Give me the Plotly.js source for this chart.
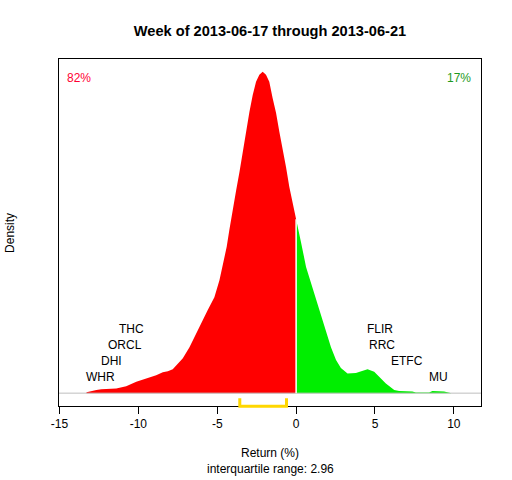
<!DOCTYPE html>
<html>
<head>
<meta charset="utf-8">
<script src="https://cdn.plot.ly/plotly-3.0.1.min.js"></script>
<style>html,body{margin:0;padding:0;background:#fff;}#chart{width:512px;height:480px;}</style>
</head>
<body>
<div id="chart"></div>
<script>
// Density of weekly returns, left (negative) part
const negX = [-13.30,-13.28,-12.66,-12.35,-11.40,-10.77,-10.13,-9.61,-9.29,-8.87,-8.45,-8.13,-7.82,-7.50,-7.18,-6.76,-6.34,-5.92,-5.60,-5.18,-4.86,-4.61,-4.40,-4.23,-4.02,-3.80,-3.59,-3.39,-3.17,-2.96,-2.75,-2.54,-2.33,-2.12,-1.91,-1.70,-1.49,-1.27,-1.06,-0.85,-0.64,-0.43,-0.22,0];
const negY = [0,0.0005,0.0016,0.0021,0.0025,0.0037,0.0060,0.0074,0.0083,0.0095,0.0110,0.0116,0.0127,0.0154,0.0185,0.0243,0.0318,0.0386,0.0440,0.0508,0.0598,0.0689,0.0774,0.0864,0.0979,0.1074,0.1170,0.1277,0.1392,0.1488,0.1578,0.1647,0.1685,0.1700,0.1685,0.1647,0.1562,0.1482,0.1382,0.1297,0.1197,0.1091,0.1006,0.0920];
// positive part
const posX = [0,0.09,0.31,0.63,0.94,1.26,1.58,1.89,2.21,2.53,2.84,3.26,3.79,4.13,4.53,4.95,5.27,5.69,6.22,6.53,7.37,7.59,8.43,8.64,9.38,9.80,9.85];
const posY = [0.0920,0.0879,0.0799,0.0668,0.0583,0.0493,0.0403,0.0318,0.0243,0.0175,0.0133,0.0104,0.0107,0.0116,0.0127,0.0113,0.0086,0.0051,0.0016,0.0011,0.0009,0.0004,0.0004,0.0011,0.0009,0.0004,0];

const stockNames = ["WHR","DHI","ORCL","THC","MU","ETFC","RRC","FLIR"];
const stockReturns = [-12.4,-11.71,-10.82,-10.44,9.0,7.03,5.44,5.32];
const labelLevels = [0.0085,0.0170,0.0255,0.0340,0.0085,0.0170,0.0255,0.0340];

const pctLabels = ["82%","17%"];
const pctX = [-13.78,10.33];
const pctColors = ["#FF0033","#1E9A1E"];

const iqrLow = -3.57, iqrHigh = -0.61;
const iqrText = "interquartile range: 2.96";
const titleText = "Week of 2013-06-17 through 2013-06-21";

const peak = Math.max(...negY, ...posY);
const FONT = "Liberation Sans, Arial, Helvetica, sans-serif";

const traces = [
  {x: negX, y: negY, type: "scatter", mode: "lines", fill: "tozeroy",
   fillcolor: "#FF0000", line: {color: "#FF0000", width: 0}, hoverinfo: "skip"},
  {x: posX, y: posY, type: "scatter", mode: "lines", fill: "tozeroy",
   fillcolor: "#00EE00", line: {color: "#00EE00", width: 0}, hoverinfo: "skip"}
];

const annotations = [];
stockNames.forEach((n, i) => annotations.push({
  x: stockReturns[i], y: labelLevels[i], xref: "x", yref: "y", text: n,
  showarrow: false, xanchor: "center", yanchor: "middle",
  font: {family: FONT, size: 12, color: "#000"}
}));
pctLabels.forEach((t, i) => annotations.push({
  x: pctX[i], y: peak * 0.981, xref: "x", yref: "y", text: t,
  showarrow: false, xanchor: "center", yanchor: "middle",
  font: {family: FONT, size: 12, color: pctColors[i]}
}));
annotations.push({x: 0.5, y: -0.1354, xref: "paper", yref: "paper", text: "Return (%)",
  showarrow: false, xanchor: "center", yanchor: "middle", font: {family: FONT, size: 12, color: "#000"}});
annotations.push({x: 0.5, y: -0.1816, xref: "paper", yref: "paper", text: iqrText,
  showarrow: false, xanchor: "center", yanchor: "middle", font: {family: FONT, size: 12, color: "#000"}});
annotations.push({x: -0.1174, y: 0.5, xref: "paper", yref: "paper", text: "Density", textangle: -90,
  showarrow: false, xanchor: "center", yanchor: "middle", font: {family: FONT, size: 12, color: "#000"}});

const shapes = [
  {type: "line", xref: "paper", yref: "y", x0: 0, x1: 1, y0: 0, y1: 0,
   line: {color: "#BEBEBE", width: 1}, layer: "above"},
  {type: "line", xref: "x", yref: "y", x0: 0, x1: 0, y0: 0, y1: negY[negY.length - 1],
   line: {color: "#FFFFFF", width: 1.5}, layer: "above"},
  {type: "path", xref: "x", yref: "paper",
   path: `M ${iqrLow},0.022 L ${iqrLow},-0.001 L ${iqrHigh},-0.001 L ${iqrHigh},0.022`,
   line: {color: "#FFD700", width: 3}, layer: "above"}
];

const layout = {
  width: 512, height: 480,
  margin: {l: 59, r: 31, t: 59, b: 74, pad: 0},
  paper_bgcolor: "#fff", plot_bgcolor: "#fff",
  showlegend: false,
  title: {text: "<b>" + titleText + "</b>", x: 0.5, xref: "paper", y: 1 - 31 / 480, yref: "container",
          xanchor: "center", yanchor: "middle", font: {family: FONT, size: 14.6, color: "#000"}},
  xaxis: {range: [-15.03, 11.72], tickvals: [-15, -10, -5, 0, 5, 10], ticktext: ["-15","-10","-5","0","5","10"],
          ticks: "outside", ticklen: 7, tickwidth: 1, tickcolor: "#000",
          showline: true, linecolor: "#000", linewidth: 1, mirror: true,
          showgrid: false, zeroline: false, fixedrange: true,
          tickfont: {family: FONT, size: 12, color: "#000"}},
  yaxis: {range: [-0.04 * peak, 1.04 * peak], showticklabels: false, ticks: "",
          showline: true, linecolor: "#000", linewidth: 1, mirror: true,
          showgrid: false, zeroline: false, fixedrange: true},
  annotations: annotations,
  shapes: shapes
};

Plotly.newPlot("chart", traces, layout, {staticPlot: true, displayModeBar: false});
</script>
</body>
</html>
